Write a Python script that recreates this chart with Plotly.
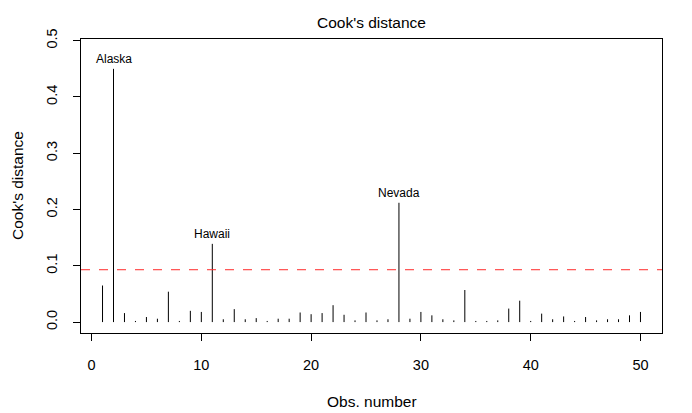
import plotly.graph_objects as go

obs = list(range(1, 51))
cooks = [0.065, 0.450, 0.016, 0.002, 0.009, 0.006, 0.054, 0.002, 0.020, 0.018,
         0.139, 0.005, 0.023, 0.005, 0.007, 0.002, 0.006, 0.006, 0.017, 0.014,
         0.016, 0.030, 0.013, 0.003, 0.017, 0.003, 0.005, 0.212, 0.006, 0.018,
         0.012, 0.005, 0.003, 0.057, 0.002, 0.002, 0.003, 0.024, 0.038, 0.002,
         0.015, 0.005, 0.010, 0.002, 0.009, 0.003, 0.005, 0.005, 0.012, 0.018]
label_obs = [2, 11, 28]
label_names = ["Alaska", "Hawaii", "Nevada"]
threshold = 4 / 43
xticks = [0, 10, 20, 30, 40, 50]
yticks = [0.0, 0.1, 0.2, 0.3, 0.4, 0.5]
ytick_text = ["0.0", "0.1", "0.2", "0.3", "0.4", "0.5"]

W, H = 692, 413
ML, MR, MT, MB = 81, 30, 39, 80

xs, ys = [], []
for o, v in zip(obs, cooks):
    xs += [o, o, None]
    ys += [0, v, None]

font = "Liberation Sans, Arial, sans-serif"
fig = go.Figure()
fig.add_trace(go.Scatter(x=xs, y=ys, mode="lines", line=dict(color="black", width=1),
                         hoverinfo="skip", showlegend=False))

fig.add_shape(type="line", xref="paper", x0=0, x1=1, yref="y", y0=threshold, y1=threshold,
              line=dict(color="#ff2a2a", width=1, dash="dash"))

for o, n in zip(label_obs, label_names):
    fig.add_annotation(x=o, y=cooks[o - 1], text=n, showarrow=False, yanchor="bottom",
                       yshift=1, font=dict(family=font, size=12, color="black"))

pw, ph = W - ML - MR, H - MT - MB
# axis titles
fig.add_annotation(text="Obs. number", xref="paper", yref="paper", x=0.5,
                   y=-(401 - (H - MB)) / ph, xanchor="center", yanchor="middle",
                   showarrow=False, font=dict(family=font, size=15.5, color="black"))
fig.add_annotation(text="Cook's distance", xref="paper", yref="paper",
                   x=-(ML - 17) / pw, y=0.5, xanchor="center", yanchor="middle",
                   textangle=-90, showarrow=False,
                   font=dict(family=font, size=15.5, color="black"))

fig.update_layout(
    width=W, height=H,
    margin=dict(l=ML, r=MR, t=MT, b=MB, autoexpand=False),
    paper_bgcolor="white", plot_bgcolor="white",
    title=dict(text="Cook's distance", x=0.5, xref="paper", y=1 - 23 / H, yanchor="middle",
               font=dict(family=font, size=15.5, color="black")),
    font=dict(family=font, color="black"),
)
fig.update_xaxes(range=[-0.96, 51.96], tickvals=xticks, ticks="outside", ticklen=7,
                 tickcolor="black", showline=True, linecolor="black", linewidth=1, mirror=True,
                 showgrid=False, zeroline=False, tickfont=dict(size=14.5, family=font),
                 ticklabelstandoff=12, automargin=False)
fig.update_yaxes(range=[-0.0194, 0.503], tickvals=yticks, ticktext=ytick_text, tickangle=-90,
                 ticks="outside", ticklen=7, tickcolor="black", showline=True, linecolor="black",
                 linewidth=1, mirror=True, showgrid=False, zeroline=False,
                 tickfont=dict(size=14.5, family=font), ticklabelstandoff=10, automargin=False)

fig.write_html("out.html")
